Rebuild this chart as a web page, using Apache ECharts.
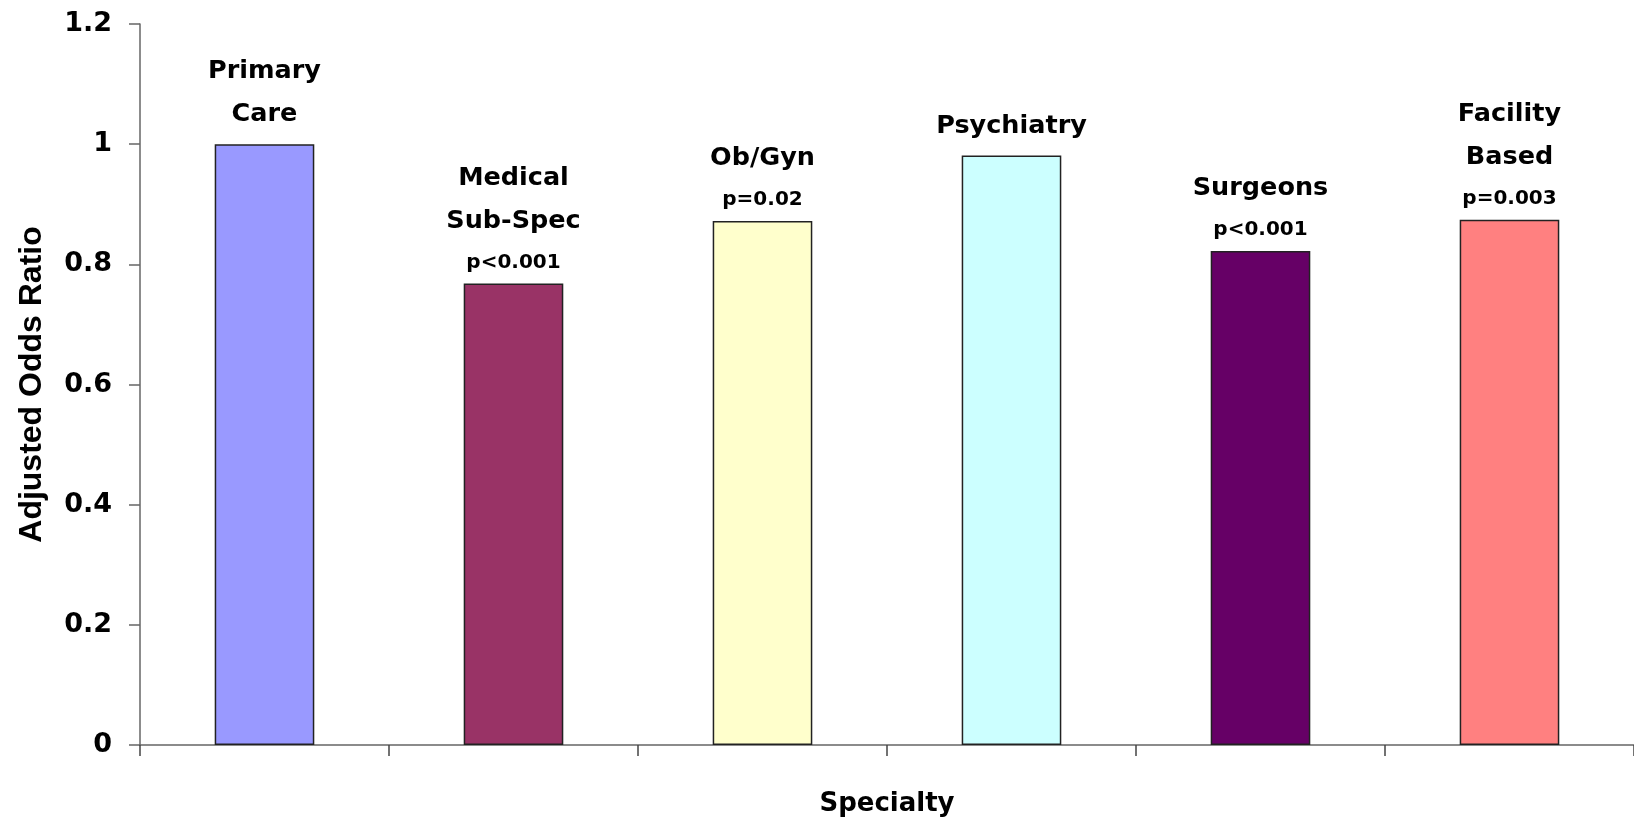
<!DOCTYPE html>
<html>
<head>
<meta charset="utf-8">
<script src="https://cdn.jsdelivr.net/npm/echarts@6/dist/echarts.min.js"></script>
<style>html,body{margin:0;padding:0;background:#fff}#c{width:1634px;height:822px}</style>
</head>
<body>
<div id="c"></div>
<script>
const categories = ['Primary\nCare', 'Medical\nSub-Spec', 'Ob/Gyn', 'Psychiatry', 'Surgeons', 'Facility\nBased'];
const oddsRatios = [1.0, 0.768, 0.872, 0.981, 0.822, 0.874];
const pValues = ['', 'p<0.001', 'p=0.02', '', 'p<0.001', 'p=0.003'];
const barColors = ['#9999FF', '#993366', '#FFFFCC', '#CCFFFF', '#660066', '#FF8080'];
const yTicks = { min: 0, max: 1.2, interval: 0.2 };

const arial = '"Liberation Sans", Arial, sans-serif';
const wide = '"DejaVu Sans", sans-serif';
const data = oddsRatios.map((v, i) => {
  const name = categories[i].split('\n').map(s => '{n|' + s + '}').join('\n');
  const txt = pValues[i] ? name + '\n{p|' + pValues[i] + '}' : name;
  return {
    value: v,
    itemStyle: { color: barColors[i] },
    label: { formatter: txt, distance: pValues[i] ? 1 : 8 }
  };
});

const chart = echarts.init(document.getElementById('c'));
chart.setOption({
  animation: false,
  backgroundColor: '#fff',
  grid: { left: 140, right: 0, top: 24, bottom: 75, containLabel: false },
  xAxis: {
    type: 'category',
    data: categories,
    name: 'Specialty',
    nameLocation: 'middle',
    nameGap: 46,
    nameTextStyle: { fontFamily: wide, fontWeight: 'bold', fontSize: 26, color: '#000' },
    axisLine: { lineStyle: { color: '#666', width: 1.5 } },
    axisTick: { show: true, length: 11, lineStyle: { color: '#444', width: 1.5 } },
    axisLabel: { show: false },
    splitLine: { show: false }
  },
  yAxis: {
    type: 'value',
    min: yTicks.min, max: yTicks.max, interval: yTicks.interval,
    name: 'Adjusted Odds Ratio',
    nameLocation: 'middle',
    nameGap: 92,
    nameTextStyle: { fontFamily: arial, fontWeight: 'bold', fontSize: 32, color: '#000' },
    axisLine: { show: true, lineStyle: { color: '#666', width: 1.5 } },
    axisTick: { show: true, length: 11, lineStyle: { color: '#666', width: 1.5 } },
    axisLabel: { margin: 28, fontFamily: wide, fontWeight: 'bold', fontSize: 27, color: '#000' },
    splitLine: { show: false }
  },
  series: [{
    type: 'bar',
    data: data,
    barWidth: '40%',
    itemStyle: { borderColor: '#222', borderWidth: 1.5 },
    label: {
      show: true,
      position: 'top',
      align: 'center',
      rich: {
        n: { fontFamily: wide, fontWeight: 'bold', fontSize: 25.5, color: '#000', lineHeight: 43, align: 'center' },
        p: { fontFamily: wide, fontWeight: 'bold', fontSize: 20, color: '#000', lineHeight: 40, align: 'center' }
      }
    }
  }]
});
</script>
</body>
</html>
